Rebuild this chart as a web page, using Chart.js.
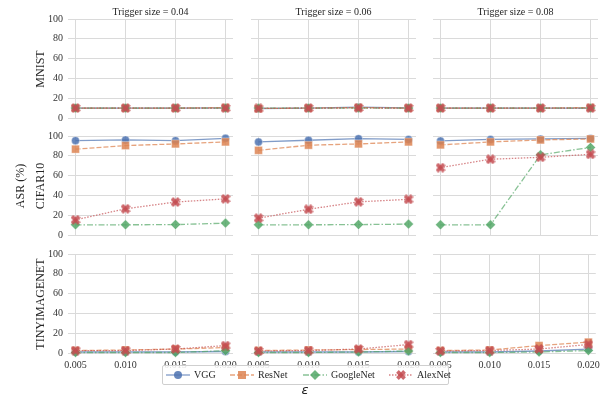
<!DOCTYPE html>
<html>
<head>
<meta charset="utf-8">
<script src="https://cdn.jsdelivr.net/npm/chart.js@4.4.1/dist/chart.umd.min.js"></script>
<style>
  body { margin: 0; background: #fff; }
  #wrap { position: relative; width: 606px; height: 396px; font-family: "Liberation Serif", serif; color: #262626; overflow: hidden; }
  #wrap canvas.panel { position: absolute; left: 0; top: 0; }
  .lbl { position: absolute; white-space: nowrap; transform: translate(-50%, -50%); }
  .rot { transform: translate(-50%, -50%) rotate(-90deg); }
  #legend { position: absolute; left: 162px; top: 365px; width: 285px; height: 18px; border: 1px solid #cfcfcf; border-radius: 2px; background: rgba(255,255,255,0.85); }
  #legend canvas, #legend span { position: absolute; }
  #legend span { font-size: 10px; top: 3px; }
</style>
</head>
<body>
<div id="wrap"></div>
<script>
// x values (epsilon) and panel labels
const epsilons = [0.005, 0.010, 0.015, 0.020];
const triggerSizes = ['0.04', '0.06', '0.08'];
const datasetNames = ['MNIST', 'CIFAR10', 'TINYIMAGENET'];
const models = ['VGG', 'ResNet', 'GoogleNet', 'AlexNet'];
const yTickValues = [0, 20, 40, 60, 80, 100];

// ASR (%) per model and dataset, one row per trigger size (0.04, 0.06, 0.08)
const vggMnist = [[10, 10, 10, 10.3], [9.6, 10, 11, 10.2], [10, 10, 10, 10]];
const resnetMnist = [[10, 10, 10, 10.5], [9.6, 10, 10.5, 10], [10, 10, 10, 10.5]];
const googlenetMnist = [[10, 10, 10, 10], [10, 10, 10, 10], [10, 10, 10, 10]];
const alexnetMnist = [[10, 10, 10, 10], [9.6, 10, 10.2, 10], [10, 10, 10, 10]];

const vggCifar = [[95.3, 96, 95.3, 97.7], [94, 95.7, 97.3, 96.5], [95, 96.5, 97, 97.5]];
const resnetCifar = [[86.7, 90.3, 92, 94], [85.5, 90.7, 92, 94], [91, 94, 96, 97]];
const googlenetCifar = [[10.3, 10.3, 10.5, 12], [10.3, 10.3, 10.5, 11], [10.3, 10.3, 81, 88.5]];
const alexnetCifar = [[15.3, 26.5, 33.3, 36.5], [17, 26, 33.5, 36], [68, 76.5, 78.5, 81.5]];

const vggTiny = [[1, 1, 1, 1.5], [1, 1, 1, 1.5], [1, 1, 2, 4]];
const resnetTiny = [[2.5, 3, 4, 5.5], [2.5, 3, 3.5, 4], [2.5, 3, 7.5, 11]];
const googlenetTiny = [[0.5, 0.5, 0.5, 2.3], [0.5, 0.5, 1, 2], [0.5, 0.5, 1, 2.5]];
const alexnetTiny = [[2.5, 2.5, 4, 7.5], [2, 2.5, 4, 8.5], [2, 2.5, 4, 8.6]];

const panelData = [
  [vggMnist, resnetMnist, googlenetMnist, alexnetMnist],
  [vggCifar, resnetCifar, googlenetCifar, alexnetCifar],
  [vggTiny, resnetTiny, googlenetTiny, alexnetTiny]
];

// styling
const lineColors = ['rgba(76,114,176,0.7)', 'rgba(221,132,82,0.75)', 'rgba(85,168,104,0.7)', 'rgba(196,78,82,0.7)'];
const markColors = ['rgba(76,114,176,0.85)', 'rgba(221,132,82,0.85)', 'rgba(85,168,104,0.85)', 'rgba(196,78,82,0.85)'];
const dashes = [[], [5, 2], [6, 2, 1.5, 2], [1.5, 1.5]];

function xMarker(color, size) {
  const c = document.createElement('canvas');
  c.width = size; c.height = size;
  const g = c.getContext('2d');
  const s = size / 2, t = size * 0.19;
  g.translate(s, s);
  g.rotate(Math.PI / 4);
  g.fillStyle = color;
  g.fillRect(-s, -t, 2 * s, 2 * t);
  g.fillRect(-t, -s, 2 * t, 2 * s);
  return c;
}
const pointStyles = ['circle', 'rect', 'rectRot', xMarker(markColors[3], 10)];
const pointRadii = [4, 5.6, 5, 5];

const colL = [68, 251, 433];
const rowT = [19, 136, 254];
const plotW = 165, plotH = 99;
const yAxisW = 30, xAxisH = 20;

const wrap = document.getElementById('wrap');

for (let r = 0; r < 3; r++) {
  for (let c = 0; c < 3; c++) {
    const cv = document.createElement('canvas');
    cv.className = 'panel';
    cv.width = 606; cv.height = 396;
    cv.style.width = '606px'; cv.style.height = '396px';
    wrap.appendChild(cv);

    const showY = c === 0;
    const showX = r === 2;
    new Chart(cv, {
      type: 'line',
      data: {
        datasets: models.map((m, k) => ({
          label: m,
          data: epsilons.map((e, i) => ({ x: e, y: panelData[r][k][c][i] })),
          borderColor: lineColors[k],
          borderWidth: 1.3,
          borderDash: dashes[k],
          backgroundColor: markColors[k],
          pointBackgroundColor: markColors[k],
          pointBorderColor: 'rgba(255,255,255,0.6)',
          pointBorderWidth: 0.6,
          pointStyle: pointStyles[k],
          pointRadius: pointRadii[k],
          clip: false,
          order: 3 - k
        }))
      },
      options: {
        responsive: false,
        animation: false,
        events: [],
        layout: {
          padding: {
            left: colL[c] - (showY ? yAxisW : 0),
            right: 606 - colL[c] - plotW,
            top: rowT[r],
            bottom: 396 - rowT[r] - plotH - (showX ? xAxisH : 0)
          }
        },
        plugins: { legend: { display: false }, tooltip: { enabled: false } },
        scales: {
          x: {
            type: 'linear',
            min: 0.00425,
            max: 0.02075,
            afterBuildTicks: s => { s.ticks = epsilons.map(v => ({ value: v })); },
            afterFit: s => { s.height = showX ? xAxisH : 0; },
            grid: { color: '#dadada', lineWidth: 1, drawTicks: false },
            border: { display: false },
            ticks: {
              display: showX,
              padding: 6,
              maxRotation: 0,
              color: '#333',
              font: { family: 'Liberation Serif', size: 10 },
              callback: v => v.toFixed(3)
            }
          },
          y: {
            min: 0,
            max: 100,
            afterBuildTicks: s => { s.ticks = yTickValues.map(v => ({ value: v })); },
            afterFit: s => { s.width = showY ? yAxisW : 0; },
            grid: { color: '#dadada', lineWidth: 1, drawTicks: false },
            border: { display: false },
            ticks: {
              display: showY,
              padding: 5,
              color: '#333',
              font: { family: 'Liberation Serif', size: 10 }
            }
          }
        }
      }
    });
  }
}

function addLabel(text, x, y, size, rotate, extra) {
  const d = document.createElement('div');
  d.className = 'lbl' + (rotate ? ' rot' : '');
  d.textContent = text;
  d.style.left = x + 'px';
  d.style.top = y + 'px';
  d.style.fontSize = size + 'px';
  if (extra) Object.assign(d.style, extra);
  wrap.appendChild(d);
}

triggerSizes.forEach((t, c) => addLabel('Trigger size = ' + t, colL[c] + plotW / 2, 11, 10));
datasetNames.forEach((n, r) => addLabel(n, 40, rowT[r] + plotH / 2, 12, true));
addLabel('ASR (%)', 20, rowT[1] + plotH / 2, 12, true);
addLabel('ε', 305, 389, 13, false, { fontFamily: '"DejaVu Sans", sans-serif', fontStyle: 'italic' });

// legend
const legend = document.createElement('div');
legend.id = 'legend';
wrap.appendChild(legend);
const handleX = [2, 66, 139, 225];
const textX = [31, 95, 168, 254];
models.forEach((m, k) => {
  const h = document.createElement('canvas');
  h.width = 26; h.height = 16;
  h.style.left = handleX[k] + 'px';
  h.style.top = '1px';
  legend.appendChild(h);
  const g = h.getContext('2d');
  g.strokeStyle = lineColors[k];
  g.lineWidth = 1.3;
  g.setLineDash(dashes[k]);
  g.beginPath(); g.moveTo(1, 8); g.lineTo(25, 8); g.stroke();
  g.setLineDash([]);
  g.fillStyle = markColors[k];
  const cx = 13, cy = 8;
  if (k === 0) { g.beginPath(); g.arc(cx, cy, 4, 0, Math.PI * 2); g.fill(); }
  else if (k === 1) { g.fillRect(cx - 4, cy - 4, 8, 8); }
  else if (k === 2) { g.beginPath(); g.moveTo(cx, cy - 5); g.lineTo(cx + 5, cy); g.lineTo(cx, cy + 5); g.lineTo(cx - 5, cy); g.closePath(); g.fill(); }
  else { g.drawImage(pointStyles[3], cx - 5, cy - 5); }
  const s = document.createElement('span');
  s.textContent = m;
  s.style.left = textX[k] + 'px';
  legend.appendChild(s);
});
</script>
</body>
</html>
